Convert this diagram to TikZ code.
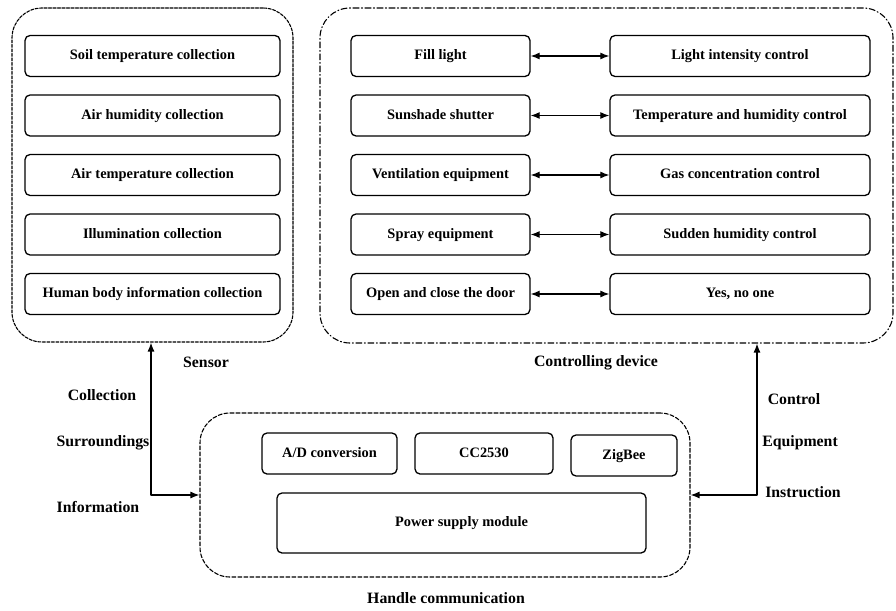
\documentclass[tikz,border=0pt]{standalone}
\usepackage{fontspec}
\setmainfont{Liberation Serif}
\usetikzlibrary{arrows.meta,positioning,calc}

\tikzset{
  unit/.style={draw, line width=1.3pt, rounded corners=5pt, inner sep=0pt,
    minimum height=41pt, text height=10pt, text depth=3pt,
    font=\fontsize{14.4}{16}\selectfont\bfseries},
  group/.style={draw, line width=1.1pt, rounded corners=30pt, inner sep=0pt},
  caption/.style={font=\fontsize{15.8}{18}\selectfont\bfseries, inner sep=0pt},
  link/.style={line width=1.2pt, {Latex[length=9pt,width=7pt]}-{Latex[length=9pt,width=7pt]}}
}

\begin{document}
\begin{tikzpicture}[
  x=1pt,
  y=-1pt,
  line cap=round,
  line join=round
]
\useasboundingbox (0,0) rectangle (896,610);

% Sensor group
\node[group, dash pattern=on 3pt off 1.5pt, minimum width=281pt, minimum height=334pt]
  (sensor) at (152.5,175) {};
\foreach \name/\txt [count=\i from 0] in {
  soil/Soil temperature collection,
  airhum/Air humidity collection,
  airtemp/Air temperature collection,
  illum/Illumination collection,
  body/Human body information collection
}{
  \node[unit, minimum width=255pt] (\name) at (152.5,56+59.5*\i) {\txt};
}

% Controlling device group
\node[group, dash pattern=on 6pt off 2.5pt on 1pt off 2.5pt,
  minimum width=573pt, minimum height=335pt]
  (control) at (606.5,175.5) {};
\foreach \dev/\task [count=\i from 0] in {
  Fill light/Light intensity control,
  Sunshade shutter/Temperature and humidity control,
  Ventilation equipment/Gas concentration control,
  Spray equipment/Sudden humidity control,
  Open and close the door/{Yes, no one}
}{
  \node[unit, minimum width=179pt] (dev\i) at (440.5,56+59.5*\i) {\dev};
  \node[unit, minimum width=260pt] (task\i) at (740,56+59.5*\i) {\task};
  \draw[link] (dev\i) -- (task\i);
}

% Handle communication group
\node[group, dash pattern=on 4pt off 2pt, minimum width=490pt, minimum height=164pt]
  (handle) at (445,495) {};
\node[unit, minimum width=135pt] (adconv) at (329.5,453.5) {A/D conversion};
\node[unit, minimum width=138pt] (chip) at (484,453.5) {CC2530};
\node[unit, minimum width=106pt] (zigbee) at (624,455.5) {ZigBee};
\node[unit, minimum width=369pt, minimum height=60pt] (power) at (461.5,523)
  {Power supply module};

% Connectors to the handle group
\draw[link] (sensor.south -| 151,0) |- (handle.west);
\draw[link] (control.south -| 757,0) |- (handle.east);

% Captions
\node[caption] (sensorcap) at (206,362) {Sensor};
\node[caption] (controlcap) at (596,363) {Controlling device};
\node[caption] (handlecap) at (446,598) {Handle communication};
\node[caption] (collect) at (102,395) {Collection};
\node[caption] (surround) at (103,443) {Surroundings};
\node[caption] (info) at (98,507) {Information};
\node[caption] (ctrlword) at (794,399) {Control};
\node[caption] (equip) at (800,443) {Equipment};
\node[caption] (instr) at (803,492) {Instruction};

\end{tikzpicture}
\end{document}
